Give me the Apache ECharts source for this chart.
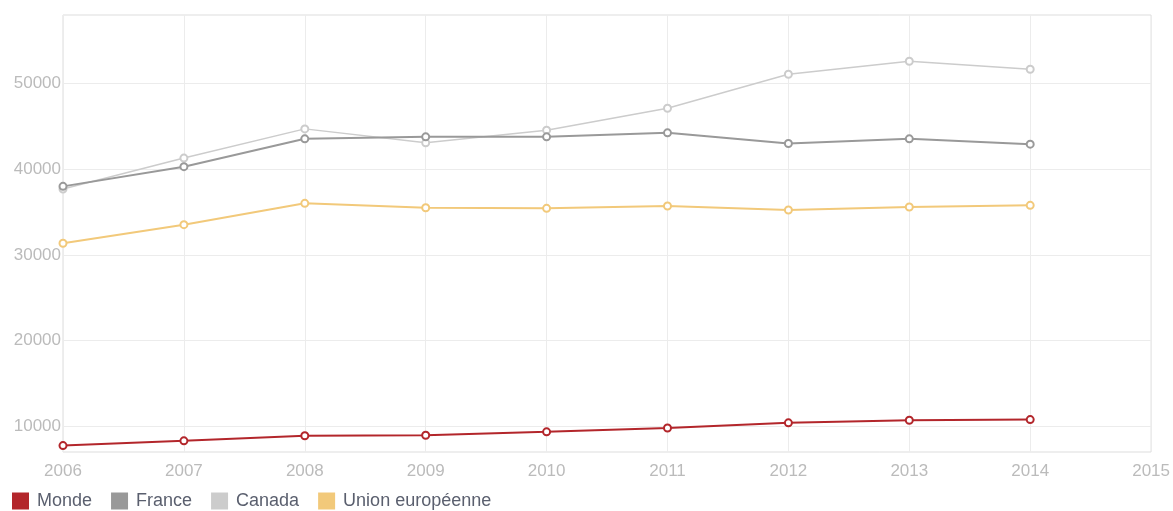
<!DOCTYPE html>
<html>
<head>
<meta charset="utf-8">
<script src="https://cdn.jsdelivr.net/npm/echarts@6/dist/echarts.min.js"></script>
<style>
html,body{margin:0;padding:0;background:#fff;}
#c{width:1173px;height:511px;}
</style>
</head>
<body>
<div id="c"></div>
<script>
var years = [2006, 2007, 2008, 2009, 2010, 2011, 2012, 2013, 2014];
var monde = [7750, 8300, 8900, 8950, 9350, 9800, 10400, 10700, 10780];
var france = [38000, 40300, 43550, 43780, 43780, 44250, 43010, 43550, 42930];
var canada = [37700, 41300, 44710, 43080, 44560, 47120, 51080, 52600, 51670];
var ue = [31360, 33530, 36020, 35510, 35440, 35710, 35240, 35590, 35790];
var yTicks = [10000, 20000, 30000, 40000, 50000];
var seriesNames = ['Monde', 'France', 'Canada', 'Union européenne'];
var colors = ['#b3262b', '#999999', '#cccccc', '#f2c97a'];

function pairs(vals){ return years.map(function(y,i){ return [y, vals[i]]; }); }
var allData = [monde, france, canada, ue];
var font = 'Liberation Sans, Arial, sans-serif';

var chart = echarts.init(document.getElementById('c'));
chart.setOption({
  animation: false,
  textStyle: {fontFamily: font},
  grid: {left: 63, right: 21, top: 15, bottom: 59, containLabel: false,
         show: true, borderColor: '#dddddd', borderWidth: 1},
  legend: {
    left: 7, top: 487, icon: 'rect', itemWidth: 17, itemHeight: 17, itemGap: 19,
    textStyle: {color: '#5a5f6e', fontSize: 18, fontFamily: font, padding: [0,0,0,3]},
    data: seriesNames.map(function(n, i){
      return {name: n, itemStyle: {color: colors[i], borderWidth: 0}};
    })
  },
  xAxis: {
    type: 'value', min: 2006, max: 2015, interval: 1,
    axisLine: {show: false}, axisTick: {show: false},
    axisLabel: {color: '#bbbbbb', fontSize: 17, margin: 11, formatter: function(v){return String(v);}},
    splitLine: {show: true, lineStyle: {color: '#ececec', width: 1}}
  },
  yAxis: {
    type: 'value', min: 7000, max: 58000,
    axisLine: {show: false},
    axisTick: {show: false, customValues: yTicks},
    axisLabel: {color: '#bbbbbb', fontSize: 17, margin: 2, customValues: yTicks,
                formatter: function(v){return String(v);}},
    splitLine: {show: true, lineStyle: {color: '#ececec', width: 1}}
  },
  series: seriesNames.map(function(n, i){
    return {
      name: n, type: 'line', data: pairs(allData[i]), color: colors[i],
      symbol: 'circle', symbolSize: 7, showSymbol: true,
      lineStyle: {color: colors[i], width: i === 2 ? 1.5 : 2},
      itemStyle: {color: '#ffffff', borderColor: colors[i], borderWidth: 2},
      z: [4, 3, 2, 5][i]
    };
  })
});
</script>
</body>
</html>
